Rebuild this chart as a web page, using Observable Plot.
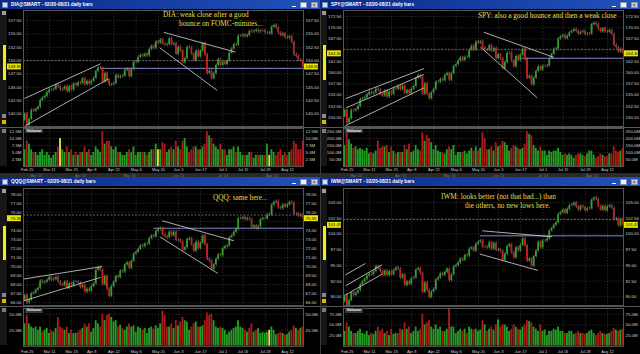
<!DOCTYPE html>
<html>
<head>
<meta charset="utf-8">
<script src="https://cdn.jsdelivr.net/npm/d3@7"></script>
<script src="https://cdn.jsdelivr.net/npm/@observablehq/plot@0.6"></script>
<style>
  html, body { margin:0; padding:0; background:#000; }
  #root { position:relative; width:640px; height:354px; overflow:hidden; background:#000; font-family:"Liberation Sans", Arial, sans-serif; }
  .abs { position:absolute; }
  .panel { width:320px; height:177px; overflow:hidden; background:#000; }
  .titlebar { left:0; top:0; width:320px; height:9px; background:linear-gradient(to right, #0b2a88, #2152bb); }
  .ttext { left:11px; top:0; height:9px; line-height:9px; font-size:4.7px; font-weight:bold; color:#fff; white-space:nowrap; }
  .note { font-family:"Liberation Serif","Times New Roman",serif; font-size:7.3px; color:#e4de48; white-space:nowrap; line-height:8px; }
</style>
</head>
<body>
<div id="root"></div>
<script>
// ---------- shared time axis (trading-day index 0 = Feb 20, 127 = Aug 21) ----------
const dayLabels = ["Feb 25","Mar 11","Mar 25","Apr 8","Apr 22","May 6","May 20","Jun 3","Jun 17","Jul 1","Jul 15","Jul 29","Aug 12"];
const dayLabelIndex = [3,13,23,32,42,52,62,71,81,91,100,110,120];
const navLabels = ["Mar '13","Apr '13","May '13","Jun '13","Jul '13","Aug '13"];
const navIndex = [7,27,49,71,91,113];

// ---------- DIA ----------
const diaTitle = "DIA@SMART - 02/20-08/21 daily bars";
const diaNote = ["DIA: weak close after a good", "bounce on FOMC-minutes..."];
const diaClose = [139.3,138.8,140.0,137.8,139.0,140.7,140.5,
 140.9,141.3,142.5,143.0,143.3,144.0,
 144.5,144.5,144.6,145.4,145.1,
 144.5,144.6,145.1,144.2,145.1,
 144.5,145.6,145.3,145.8,
 145.7,146.6,145.5,146.1,145.6,
 146.1,146.7,148.0,148.6,148.6,
 146.0,147.6,146.2,145.4,145.5,
 145.7,147.2,146.8,147.0,147.1,
 148.2,148.4,147.0,148.3,149.7,
 149.7,150.6,151.0,150.8,151.2,
 150.9,152.1,152.7,152.3,153.5,
 153.3,153.9,153.1,152.9,153.0,
 154.1,153.0,153.2,151.2,
 152.5,151.8,149.6,150.4,152.5,
 152.4,151.2,150.0,151.8,150.7,
 151.8,153.2,151.1,147.6,148.0,
 146.6,147.6,149.1,150.2,149.1,
 149.7,149.3,149.9,151.4,
 152.2,153.0,152.9,154.6,154.6,
 154.8,154.5,154.7,155.5,155.4,
 155.5,155.7,155.4,155.6,155.6,
 155.2,155.2,155.0,156.3,156.6,
 156.1,155.2,154.7,155.0,154.3,
 154.2,154.5,153.4,151.1,150.8,
 150.1,150.0,148.9];
const diaVolume = [7,9,6,9,8,6,5, 5,4,5,6,4,5, 4,3,4,5,7, 10,6,5,7,5, 6,4,5,4,
 5,5,7,5,6, 4,5,7,6,5, 12.5,8,9,9,7, 6,7,5,5,4, 4,5,6,5,7,
 4,5,5,5,5, 4,5,6,6,8, 6,6,8.5,8,5, 6,7,6,9,
 7,6,9,10,7, 5,6,7,7,6, 6,7,8,12.5,11, 10,8,7,6,8,
 6,6,4,6, 6,7,5,7,5, 4,4,4,5,5, 3,4,4,4,4, 4,8,4,6,5,
 4,5,6,4,5, 4,5,6,9,8, 6,6,9];
const diaYellow = [18,62,112];
const diaPriceDomain = [137.64, 159.4];
const diaPriceTicks = [140,142.5,145,147.5,150,152.5,155,157.5];
const diaVolDomain = [0, 13.6];
const diaVolTicks = [2.5,5,7.5,10,12.5];
const diaVolTickLabels = ["2.5M","5.0M","7.5M","10.0M","12.5M"];
const diaSupport = [36, 148.55];
const diaTrend = [[1.8,142.9,36,149.4],[2.25,137.8,39.7,146.6],[64.4,155.3,96.6,151.6],[62.6,152.4,88.4,144.4]];

// ---------- SPY ----------
const spyTitle = "SPY@SMART - 02/20-08/21 daily bars";
const spyNote = ["SPY: also a good bounce and then a weak close"];
const spyClose = [151.2,150.2,151.6,148.8,149.7,151.6,151.5,
 151.8,152.5,154.0,154.2,154.4,155.1,
 155.6,155.3,155.5,156.3,156.1,
 155.2,154.8,155.9,154.6,155.7,
 155.2,156.4,156.3,156.9,
 156.2,157.0,155.4,156.0,155.3,
 156.3,156.9,158.8,159.3,158.9,
 155.2,157.5,155.2,154.2,155.5,
 156.3,157.9,157.9,158.5,158.2,
 159.4,159.8,158.3,159.8,161.4,
 161.8,162.6,163.3,162.7,163.4,
 163.4,165.0,165.9,165.1,166.8,
 166.6,166.9,165.5,165.1,165.0,
 166.0,164.8,165.4,163.1,
 164.0,163.1,160.9,162.3,164.3,
 164.3,162.6,161.3,163.6,162.7,
 163.9,165.2,162.9,158.8,159.2,
 157.3,158.8,160.3,161.3,160.6,
 161.4,161.4,161.5,163.2,
 164.1,165.2,165.3,167.5,168.0,
 168.3,167.6,168.1,168.9,169.2,
 169.6,169.2,168.6,169.0,169.2,
 168.5,168.6,168.6,170.7,171.0,
 170.7,169.7,169.1,169.8,169.1,
 169.0,169.4,168.5,166.1,165.6,
 164.6,165.2,164.3];
const spyVolume = [180,200,150,240,190,160,130, 140,120,130,120,110,130, 90,100,90,110,180,
 130,140,140,150,100, 140,110,90,100, 100,100,150,120,160, 100,110,150,120,110,
 240,180,220,200,170, 120,150,110,100,100, 90,120,140,120,150, 80,100,100,100,110,
 90,110,130,110,140, 110,130,240,200,120, 120,140,110,170, 140,150,180,170,150,
 110,130,150,140,130, 120,130,160,250,230, 220,150,130,110,140, 110,110,80,110,
 100,110,110,130,100, 80,90,80,90,80, 60,80,90,90,80, 70,90,110,110,80,
 60,70,90,80,70, 70,90,90,140,110, 100,110,130];
const spyYellow = [];
const spyPriceDomain = [148.0, 173.84];
const spyPriceTicks = [150,152.5,155,157.5,160,162.5,165,167.5,170,172.5];
const spyVolDomain = [0, 271];
const spyVolTicks = [50,100,150,200,250];
const spyVolTickLabels = ["50.0M","100.0M","150.0M","200.0M","250.0M"];
const spySupport = [81.6, 163.2];
const spyTrend = [[2.25,154.2,37.5,160.9],[2.7,152.2,37.5,159.6],[2.25,148.2,37.5,156.6],[64.4,169.0,95.9,163.4],[62.9,165.7,88.4,154.4]];

// ---------- QQQ ----------
const qqqTitle = "QQQ@SMART - 02/20-08/21 daily bars";
const qqqNote = ["QQQ: same here..."];
const qqqClose = [66.9,66.3,66.8,66.0,66.3,67.0,67.1,
 67.4,67.6,68.4,68.2,68.3,68.5,
 68.8,68.5,68.6,68.8,68.3,
 68.0,67.9,68.3,67.6,68.1,
 67.9,68.3,68.3,68.2,
 67.7,67.9,67.2,67.5,67.3,
 67.8,68.1,69.6,69.9,69.6,
 68.0,68.9,67.5,66.7,67.8,
 68.3,68.9,68.8,69.5,69.4,
 70.2,70.4,69.8,70.6,71.4,
 71.6,71.9,72.3,72.2,72.5,
 72.5,73.1,73.4,73.3,73.9,
 74.1,74.2,73.5,73.3,73.2,
 73.8,73.4,73.8,72.9,
 72.9,72.7,71.8,72.1,73.0,
 73.1,72.4,71.7,72.7,72.0,
 72.6,73.4,72.4,70.8,70.6,
 69.7,70.2,70.8,71.3,71.2,
 72.0,72.2,72.3,73.2,
 73.4,73.8,74.1,75.3,75.3,
 75.4,75.2,75.3,75.2,74.3,
 74.5,74.2,74.4,75.2,75.3,
 75.3,75.7,75.7,76.8,77.1,
 77.2,76.5,76.4,76.8,76.6,
 76.8,77.1,77.0,75.8,75.8,
 75.6,75.7,75.35];
const qqqVolume = [45,40,35,48,35,30,28, 30,25,30,22,25,28, 20,25,22,28,45, 30,28,25,30,20,
 25,20,20,22, 25,28,35,30,35, 22,28,40,35,30, 50,40,48,50,45, 38,40,30,33,28,
 25,30,35,30,32, 22,30,28,25,28, 20,28,30,27,32, 28,35,55,48,30, 30,35,28,40,
 32,38,45,40,38, 25,30,35,38,30, 30,32,40,52,48, 50,40,30,28,30, 28,25,18,22,
 25,28,30,40,30, 28,25,22,28,35, 22,25,28,20,22, 20,22,25,30,25,
 18,20,22,20,18, 18,22,25,32,28, 25,28,30];
const qqqYellow = [112];
const qqqPriceDomain = [65.70, 78.63];
const qqqPriceTicks = [66,67,68,69,70,71,72,73,74,75,76,77,78];
const qqqVolDomain = [0, 59];
const qqqVolTicks = [25,50];
const qqqVolTickLabels = ["25.0M","50.0M"];
const qqqSupport = [59.9, 74.24];
const qqqTrend = [[0.75,68.6,36.7,70.0],[1.2,66.2,36,68.8],[63.7,75.06,95.9,72.85],[62.6,73.3,88.7,69.24]];

// ---------- IWM ----------
const iwmTitle = "IWM@SMART - 02/20-08/21 daily bars";
const iwmNote = ["IWM: looks better (not that bad...) than", "the others, no new lows here."];
const iwmClose = [90.0,89.2,90.2,88.6,89.4,90.6,90.2,
 90.6,91.0,91.9,92.4,92.8,93.3,
 93.6,93.5,94.0,94.8,94.5,
 94.0,93.4,94.1,93.4,94.0,
 93.5,94.2,94.6,94.4,
 93.0,93.5,91.8,92.4,92.0,
 92.9,93.0,94.3,94.5,93.7,
 90.7,92.2,91.0,89.9,90.8,
 91.2,92.7,93.0,93.7,93.4,
 93.9,94.4,92.6,93.5,94.8,
 95.0,95.4,96.0,95.8,96.6,
 96.5,97.6,97.8,97.3,98.4,
 98.7,98.9,97.9,97.9,97.8,
 98.6,97.6,98.5,97.4,
 97.5,97.2,95.8,96.8,98.0,
 98.3,97.0,96.2,97.8,97.3,
 98.2,99.2,98.1,95.7,96.0,
 94.9,96.4,97.3,98.7,97.8,
 98.9,98.9,99.2,100.5,
 100.9,101.4,101.8,103.1,103.4,
 103.8,103.3,103.9,104.5,104.6,
 104.9,104.3,103.8,104.4,104.2,
 103.7,104.0,104.0,105.4,105.7,
 105.5,104.4,103.8,104.4,103.7,
 104.3,104.5,104.1,102.3,102.4,
 101.3,102.3,101.45];
const iwmVolume = [40,50,35,55,45,35,30, 30,35,40,30,28,35, 25,30,28,35,45, 35,40,30,35,25,
 40,28,30,30, 40,38,55,40,45, 30,35,45,35,40, 75,50,55,60,45, 40,50,40,45,35,
 35,40,90,45,45, 30,35,40,35,40, 30,45,40,38,40, 35,38,60,50,35, 40,45,38,50,
 62,45,50,50,45, 35,40,50,45,40, 38,45,50,60,58, 55,45,40,35,50, 35,38,25,35,
 35,40,38,45,35, 35,30,30,35,35, 28,30,35,30,30, 28,30,35,38,30,
 25,30,35,30,28, 28,30,35,42,38, 35,38,40];
const iwmYellow = [];
const iwmPriceDomain = [88.62, 107.23];
const iwmPriceTicks = [90,92.5,95,97.5,100,102.5,105];
const iwmVolDomain = [0, 88.5];
const iwmVolTicks = [25,50,75];
const iwmVolTickLabels = ["25.0M","50.0M","75.0M"];
const iwmSupport = [62.9, 99.7];
const iwmTrend = [[2.25,93.5,11.2,95.3],[2.25,91.75,18.7,95.1],[2.25,90.3,18.7,93.6],[63.7,100.5,95.1,99.55],[62.6,96.8,88.7,94.2]];

// ---------- layout (style only) ----------
const xDomain = [1.35, 127.19];
const rowGeom = [
  {priceTop:10, priceBottom:126, sep:126.5, volTop:128, volBottom:166, dateY:169.5, volMB:11, nav:true, ybar:[45,80]},
  {priceTop:11, priceBottom:128, sep:128.7, volTop:130.5, volBottom:168.3, dateY:173.3, volMB:7, nav:false, ybar:[49,83]}
];
const GRID = "#3e3e3e", LABEL = "#cfcfcf", FRAME = "#6a6a6a";
const UP = "#22ad22", DOWN = "#cf1d1d", VUP = "#239d23", VDOWN = "#ab1a1a", VYEL = "#e2de3c";
const FONT = "Liberation Sans, Arial, sans-serif";

const panels = [
  {left:0, top:0, row:0, title:diaTitle, note:diaNote, notePos:[[163,11],[179,20]], close:diaClose, volume:diaVolume, yellow:diaYellow,
   yDomain:diaPriceDomain, priceTicks:diaPriceTicks, volDomain:diaVolDomain, volTicks:diaVolTicks, volLabels:diaVolTickLabels, support:diaSupport, trend:diaTrend},
  {left:320, top:0, row:0, title:spyTitle, note:spyNote, notePos:[[158,12]], close:spyClose, volume:spyVolume, yellow:spyYellow,
   yDomain:spyPriceDomain, priceTicks:spyPriceTicks, volDomain:spyVolDomain, volTicks:spyVolTicks, volLabels:spyVolTickLabels, support:spySupport, trend:spyTrend},
  {left:0, top:177, row:1, title:qqqTitle, note:qqqNote, notePos:[[213,17]], close:qqqClose, volume:qqqVolume, yellow:qqqYellow,
   yDomain:qqqPriceDomain, priceTicks:qqqPriceTicks, volDomain:qqqVolDomain, volTicks:qqqVolTicks, volLabels:qqqVolTickLabels, support:qqqSupport, trend:qqqTrend},
  {left:320, top:177, row:1, title:iwmTitle, note:iwmNote, notePos:[[121,16],[145,25]], close:iwmClose, volume:iwmVolume, yellow:iwmYellow,
   yDomain:iwmPriceDomain, priceTicks:iwmPriceTicks, volDomain:iwmVolDomain, volTicks:iwmVolTicks, volLabels:iwmVolTickLabels, support:iwmSupport, trend:iwmTrend}
];

const root = document.getElementById("root");
function el(parent, cls, css, text) {
  const d = document.createElement("div");
  d.className = "abs " + (cls || "");
  Object.assign(d.style, css || {});
  if (text != null) d.textContent = text;
  parent.appendChild(d);
  return d;
}
function place(svg, parent, top) {
  svg.style.position = "absolute";
  svg.style.left = "0px";
  svg.style.top = top + "px";
  svg.style.background = "transparent";
  svg.style.overflow = "visible";
  parent.appendChild(svg);
}

function buildPanel(p) {
  const g = rowGeom[p.row];
  const panel = el(root, "panel", {left:p.left+"px", top:p.top+"px"});
  const n = p.close.length;
  const last = p.close[n-1], prev = p.close[n-2];
  const data = p.close.map((c, i) => ({i, o: i > 0 ? p.close[i-1] : c, c, v: p.volume[i], yel: p.yellow.includes(i)}));
  // tick labels hidden behind the yellow last-price box (as in the trading platform)
  const paneH = g.priceBottom - g.priceTop;
  const pxPerUnit = paneH / (p.yDomain[1] - p.yDomain[0]);
  const shownTicks = p.priceTicks.filter(t => Math.abs(t - last) * pxPerUnit > 5.5);

  // left strip
  el(panel, "", {left:"0px", top:g.priceTop+"px", width:"7px", height:(g.volBottom-g.priceTop)+"px", background:"#161616"});
  el(panel, "", {left:"2px", top:(g.priceTop+1)+"px", width:"4px", height:"4px", background:"#9a9a9a"});
  el(panel, "", {left:"2.5px", top:g.ybar[0]+"px", width:"3.5px", height:(g.ybar[1]-g.ybar[0])+"px", background:"#f0ee10"});
  el(panel, "", {left:"2px", top:(g.priceBottom-12)+"px", width:"4px", height:"4px", background:"#8a8a8a"});
  el(panel, "", {left:"2px", top:(g.priceBottom-6)+"px", width:"4px", height:"4px", background:"#d6b800"});
  el(panel, "", {left:"2px", top:(g.volTop+0.5)+"px", width:"4px", height:"4px", background:"#7a7a7a"});
  if (g.nav) el(panel, "", {left:"0px", top:"173px", width:"320px", height:"4px", background:"#2a2a2a"});

  // price pane
  const priceSvg = Plot.plot({
    width: 320, height: g.priceBottom - g.priceTop + 2,
    marginLeft: 23, marginRight: 17, marginTop: 1, marginBottom: 1,
    x: {domain: xDomain, axis: null},
    y: {domain: p.yDomain, axis: null},
    color: {type: "identity"},
    style: {background: "transparent", fontFamily: FONT, overflow: "visible"},
    marks: [
      Plot.ruleY(p.priceTicks, {stroke: GRID, strokeDasharray: "1.5,1.5", strokeWidth: 0.6}),
      Plot.ruleX(dayLabelIndex, {stroke: GRID, strokeDasharray: "1.5,1.5", strokeWidth: 0.6}),
      Plot.ruleY([prev], {stroke: "#8e8e8e", strokeDasharray: "2,1.5", strokeWidth: 0.7}),
      Plot.ruleY([p.support], {y: d => d[1], x1: d => d[0], x2: xDomain[1], stroke: "#8487cc", strokeWidth: 1}),
      Plot.ruleX(data, {x: "i", y1: d => Math.max(d.o, d.c), y2: d => Math.min(d.o, d.c), insetTop: -1.5, insetBottom: -1.5, stroke: "#b4b4b4", strokeWidth: 0.5, clip: true}),
      Plot.rect(data, {x1: d => d.i - 0.36, x2: d => d.i + 0.36, y1: "o", y2: "c", fill: d => d.c >= d.o ? UP : DOWN, clip: true}),
      Plot.link(p.trend, {x1: d => d[0], y1: d => d[1], x2: d => d[2], y2: d => d[3], stroke: "#d6d6d6", strokeWidth: 0.8, clip: true}),
      Plot.text(shownTicks, {y: d => d, frameAnchor: "left", textAnchor: "end", dx: -2, text: d => d.toFixed(2), fill: LABEL, fontSize: 4.4}),
      Plot.text(shownTicks, {y: d => d, frameAnchor: "right", textAnchor: "start", dx: 2, text: d => d.toFixed(2), fill: LABEL, fontSize: 4.4}),
      Plot.ruleY([last], {stroke: "#e8e600", strokeWidth: 6, insetLeft: -16, insetRight: 282}),
      Plot.ruleY([last], {stroke: "#e8e600", strokeWidth: 6, insetLeft: 281, insetRight: -15}),
      Plot.text([last], {y: d => d, frameAnchor: "left", textAnchor: "end", dx: -2, text: d => d.toFixed(2), fill: "#000", fontSize: 4.4}),
      Plot.text([last], {y: d => d, frameAnchor: "right", textAnchor: "start", dx: 2, text: d => d.toFixed(2), fill: "#000", fontSize: 4.4}),
      Plot.frame({stroke: FRAME, strokeWidth: 0.8})
    ]
  });
  place(priceSvg, panel, g.priceTop - 1);

  // separator
  el(panel, "", {left:"0px", top:g.sep+"px", width:"320px", height:"1px", background:"#575757"});

  // volume pane
  const volSvg = Plot.plot({
    width: 320, height: (g.volBottom - g.volTop) + 1 + g.volMB,
    marginLeft: 23, marginRight: 17, marginTop: 1, marginBottom: g.volMB,
    x: {domain: xDomain, axis: null},
    y: {domain: p.volDomain, axis: null},
    color: {type: "identity"},
    style: {background: "transparent", fontFamily: FONT, overflow: "visible"},
    marks: [
      Plot.ruleY(p.volTicks, {stroke: GRID, strokeDasharray: "1.5,1.5", strokeWidth: 0.6}),
      Plot.ruleX(dayLabelIndex, {stroke: GRID, strokeDasharray: "1.5,1.5", strokeWidth: 0.6}),
      Plot.rect(data, {x1: d => d.i - 0.42, x2: d => d.i + 0.42, y1: 0, y2: "v", fill: d => d.yel ? VYEL : (d.c >= d.o ? VUP : VDOWN), clip: true}),
      Plot.text(p.volTicks, {y: d => d, frameAnchor: "left", textAnchor: "end", dx: -2, text: (d, k) => p.volLabels[k], fill: LABEL, fontSize: 4.4}),
      Plot.text(p.volTicks, {y: d => d, frameAnchor: "right", textAnchor: "start", dx: 2, text: (d, k) => p.volLabels[k], fill: LABEL, fontSize: 4.4}),
      Plot.text(dayLabelIndex, {x: d => d, frameAnchor: "bottom", lineAnchor: "middle", dy: g.dateY - g.volBottom, text: (d, k) => dayLabels[k], fill: LABEL, fontSize: 4}),
      g.nav ? Plot.text(navIndex, {x: d => d, frameAnchor: "bottom", lineAnchor: "middle", dy: 9, text: (d, k) => navLabels[k], fill: "#7c7c7c", fontSize: 3.4}) : null,
      Plot.frame({stroke: FRAME, strokeWidth: 0.8})
    ].filter(Boolean)
  });
  place(volSvg, panel, g.volTop - 1);

  el(panel, "", {left:"25px", top:(g.volTop+0.5)+"px", height:"4.5px", lineHeight:"4.5px", padding:"0 1.5px", background:"#3a3a3a", color:"#fff", fontSize:"4.2px", fontWeight:"bold"}, "Volume");

  // title bar
  const tb = el(panel, "titlebar", {});
  el(tb, "", {left:"2px", top:"1.5px", width:"6px", height:"6px", background:"#d7e0ee", border:"0.5px solid #6a7fb0", boxSizing:"border-box"});
  el(tb, "ttext", {}, p.title);
  el(tb, "", {left:"292px", top:"6px", width:"4px", height:"1px", background:"#fff"});
  el(tb, "", {left:"300px", top:"1.5px", width:"6.5px", height:"6px", background:"#eef2fa", border:"0.5px solid #8090b0", boxSizing:"border-box"});
  el(tb, "", {left:"311px", top:"1.5px", width:"6.5px", height:"6px", background:"#d9cfd2", border:"0.5px solid #8090b0", boxSizing:"border-box", color:"#c02020", fontSize:"5px", lineHeight:"5px", textAlign:"center", fontWeight:"bold"}, "\u00d7");

  // annotations
  p.note.forEach((t, k) => el(panel, "note", {left:p.notePos[k][0]+"px", top:p.notePos[k][1]+"px"}, t));

  if (p.left > 0) el(panel, "", {left:"0px", top:"9px", width:"1px", height:"168px", background:"#3a3a3a"});
}

panels.forEach(buildPanel);
</script>
</body>
</html>
